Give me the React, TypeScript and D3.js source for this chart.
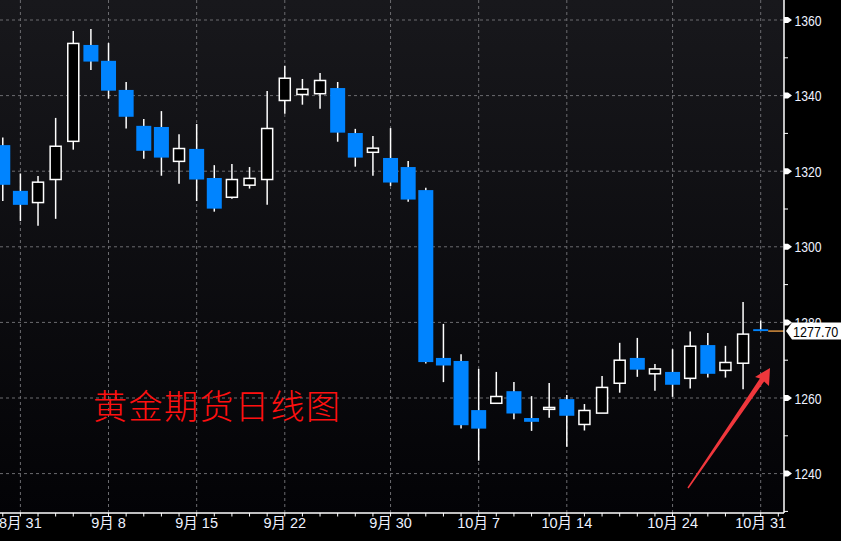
import * as d3 from 'd3';

// Daily gold futures candles (index = trading-day slot)
const OPEN = [1326.9, 1314.8, 1311.7, 1317.8, 1327.9, 1353.4, 1349.2, 1341.5, 1332.0, 1331.7, 1322.6, 1325.9, 1318.2, 1313.1, 1316.3, 1317.8, 1338.7, 1340.3, 1340.5, 1342.0, 1330.1, 1325.0, 1323.5, 1321.1, 1315.0, 1270.6, 1269.8, 1256.8, 1258.6, 1261.8, 1254.7, 1257.0, 1259.7, 1253.0, 1256.0, 1263.9, 1270.6, 1266.4, 1266.9, 1265.2, 1274.0, 1267.3, 1269.2, 1278.2];
const HIGH = [1328.9, 1319.4, 1318.7, 1334.1, 1357.1, 1357.6, 1353.9, 1343.6, 1333.8, 1335.9, 1329.8, 1332.5, 1321.6, 1321.9, 1321.1, 1341.2, 1347.9, 1344.4, 1346.0, 1343.6, 1331.2, 1329.3, 1331.4, 1322.7, 1315.6, 1279.6, 1271.6, 1267.7, 1266.9, 1264.2, 1260.5, 1264.0, 1260.8, 1258.4, 1265.8, 1274.6, 1275.9, 1269.0, 1272.9, 1277.6, 1277.2, 1273.8, 1285.4, 1280.5];
const LOW = [1312.1, 1306.8, 1305.6, 1307.4, 1325.7, 1346.8, 1339.2, 1331.3, 1323.3, 1318.8, 1316.7, 1312.1, 1309.3, 1312.7, 1315.4, 1311.1, 1335.2, 1337.6, 1336.5, 1327.8, 1321.2, 1318.8, 1316.1, 1311.9, 1269.1, 1264.2, 1251.9, 1243.4, 1258.5, 1254.4, 1251.3, 1254.8, 1247.1, 1251.4, 1256.0, 1261.4, 1265.6, 1261.9, 1260.3, 1262.5, 1265.4, 1265.4, 1262.3, 1277.7];
const CLOSE = [1316.4, 1311.1, 1317.1, 1326.6, 1353.8, 1349.0, 1341.3, 1334.4, 1325.4, 1323.6, 1326.0, 1317.8, 1310.1, 1317.8, 1318.1, 1331.3, 1344.6, 1341.7, 1344.0, 1330.2, 1323.6, 1326.1, 1317.0, 1312.5, 1269.5, 1268.6, 1252.8, 1251.9, 1260.4, 1255.9, 1253.7, 1257.5, 1255.3, 1256.7, 1262.8, 1270.0, 1267.5, 1267.7, 1263.5, 1273.7, 1266.4, 1269.4, 1276.9, 1277.7];

const DATE_LABELS = ['8月 31', '9月 8', '9月 15', '9月 22', '9月 30', '10月 7', '10月 14', '10月 24', '10月 31'];
const DATE_SLOTS = [1, 6, 11, 16, 22, 27, 32, 38, 43];
const Y_TICKS = [1240, 1260, 1280, 1300, 1320, 1340, 1360];
const Y_MINOR = [1230, 1250, 1270, 1290, 1310, 1330, 1350];
const LAST_PRICE = 1277.7;
const TITLE = '黄金期货日线图';

const W = 841, H = 541;
const AX = 784; // right axis x
const AY = 513; // bottom axis y
const BLUE = '#0084ff';
const GRID = '#6c6c70';
const LABEL = '#eef2ff';
const FONT = '"Liberation Sans", "Noto Sans CJK SC", sans-serif';
const SQ = 0.81; // horizontal squeeze for the narrow terminal font

const x = d3.scaleLinear().domain([0, 43]).range([2.77, 760.7]);
const y = d3.scaleLinear().domain([1240, 1360]).range([473.6, 20]);
const slots = d3.range(0, 45);

function Narrow({ x, y, children, anchor = 'start', size = 15, fill = LABEL }: any) {
  return (
    <text transform={`translate(${x},${y}) scale(${SQ},1)`} textAnchor={anchor} fill={fill} fontSize={size} fontFamily={FONT}>
      {children}
    </text>
  );
}

export default function App() {
  const candles = OPEN.map((o, i) => ({ i, o, h: HIGH[i], l: LOW[i], c: CLOSE[i] }));
  const py = y(LAST_PRICE);

  return (
    <svg width={W} height={H} style={{ position: 'fixed', left: 0, top: 0, background: '#000' }}>
      <defs>
        <linearGradient id="bg" x1="0" y1="0" x2="0" y2="1">
          <stop offset="0%" stopColor="#18181c" />
          <stop offset="100%" stopColor="#030306" />
        </linearGradient>
        <clipPath id="plot">
          <rect x={0} y={0} width={AX} height={AY} />
        </clipPath>
      </defs>
      <rect width={W} height={H} fill="#000" />
      <rect x={0} y={0} width={AX} height={AY} fill="url(#bg)" />

      <g clipPath="url(#plot)">
        {/* grid */}
        {Y_TICKS.map(t => (
          <line key={'h' + t} x1={0} x2={AX} y1={y(t)} y2={y(t)} stroke={GRID} strokeDasharray="3 3" />
        ))}
        {DATE_SLOTS.map(s => (
          <line key={'v' + s} x1={x(s)} x2={x(s)} y1={0} y2={AY} stroke={GRID} strokeDasharray="3 3" />
        ))}

        {/* candles */}
        {candles.map(d => {
          const cx = x(d.i);
          const down = d.c < d.o;
          const top = y(Math.max(d.o, d.c));
          const bot = y(Math.min(d.o, d.c));
          return (
            <g key={d.i}>
              <line x1={cx} x2={cx} y1={y(d.h)} y2={y(d.l)} stroke="#fff" strokeWidth={1.5} />
              {down ? (
                <rect x={cx - 7.5} y={top} width={15} height={Math.max(1.5, bot - top)} fill={BLUE} />
              ) : (
                <rect x={cx - 5.5} y={top} width={11} height={Math.max(1, bot - top)} fill="#000" stroke="#fff" strokeWidth={1.5} />
              )}
            </g>
          );
        })}

        {/* last price line */}
        <line x1={x(43) + 7.5} x2={AX} y1={py} y2={py} stroke="#d68f3e" strokeWidth={1.5} />

        {/* annotation */}
        <text x={93} y={419} fill="#ff1010" fontSize={34} fontWeight={300} letterSpacing={1.5}
          fontFamily='"Noto Sans CJK SC", sans-serif'>{TITLE}</text>
        <polygon
          points="687.4,487.6 759.9,378.6 755,377 770,368 769,386 764.1,381.4 688.6,488.4"
          fill="#f0373c"
        />
      </g>

      {/* bottom axis */}
      <line x1={0} x2={AX} y1={AY} y2={AY} stroke="#fff" strokeWidth={1.5} />
      {slots.map(s => (
        <line key={'t' + s} x1={x(s)} x2={x(s)} y1={AY} y2={AY + 3.5} stroke="#fff" />
      ))}
      {DATE_LABELS.map((lab, k) => (
        <text key={lab} x={x(DATE_SLOTS[k])} y={528} textAnchor="middle" fill={LABEL} fontSize={14.5} fontFamily={FONT}>{lab}</text>
      ))}

      {/* right axis */}
      <line x1={AX} x2={AX} y1={0} y2={AY} stroke="#fff" strokeWidth={1.5} />
      {Y_MINOR.map(t => (
        <line key={'m' + t} x1={AX} x2={AX + 4} y1={y(t)} y2={y(t)} stroke="#fff" />
      ))}
      {Y_TICKS.map(t => (
        <g key={'l' + t}>
          <polygon points={`${AX},${y(t) - 3} ${AX + 4},${y(t) - 3} ${AX + 8},${y(t)} ${AX + 4},${y(t) + 3} ${AX},${y(t) + 3}`} fill="#fff" />
          <Narrow x={794.5} y={y(t) + 5.5}>{t}</Narrow>
        </g>
      ))}

      {/* last price tag */}
      <polygon points={`${AX + 2},${py} ${AX + 8},${py - 8.5} ${W},${py - 8.5} ${W},${py + 8.5} ${AX + 8},${py + 8.5}`} fill="#fff" />
      <Narrow x={793} y={py + 5.8} size={15.5} fill="#000">{LAST_PRICE.toFixed(2)}</Narrow>
    </svg>
  );
}
